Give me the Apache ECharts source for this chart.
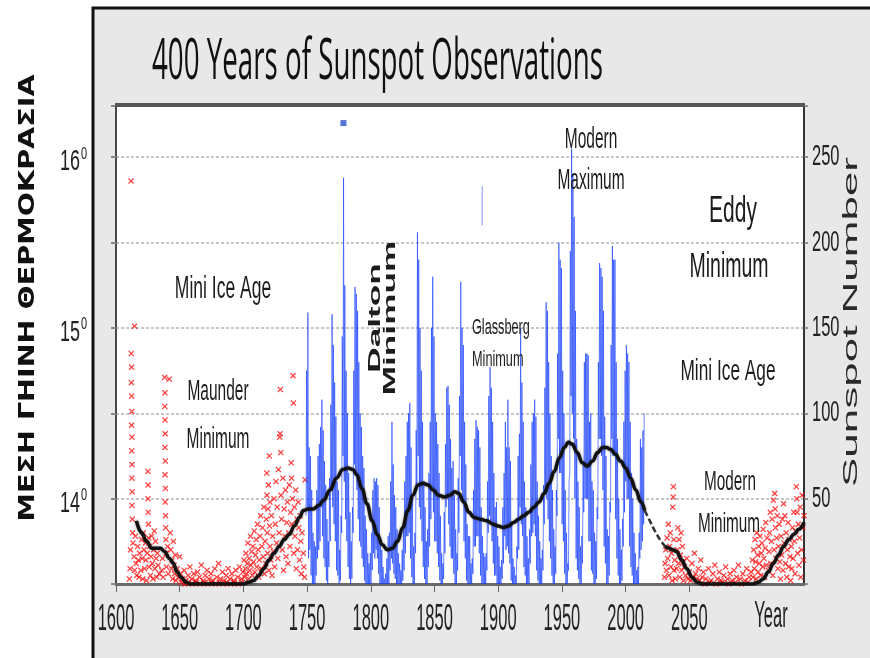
<!DOCTYPE html>
<html>
<head>
<meta charset="utf-8">
<script src="https://cdn.jsdelivr.net/npm/echarts@6/dist/echarts.min.js"></script>
<style>
  html, body { margin: 0; padding: 0; background: #fff; }
  #chart { width: 870px; height: 658px; }
</style>
</head>
<body>
<div id="chart"></div>
<script>
// tick labels
const xTicks = [1600, 1650, 1700, 1750, 1800, 1850, 1900, 1950, 2000, 2050];
const sunTicks = [50, 100, 150, 200, 250];
const tempTicks = [14, 15, 16];

// observed sunspot numbers, one high and one low monthly value per year, 1749..2014
const firstYear = 1749;
const sunHigh = [
  125, 159, 80, 75, 55, 30, 25, 22, 55, 75,
  82, 92, 108, 90, 72, 58, 38, 25, 62, 105,
  158, 140, 118, 98, 60, 55, 20, 40, 145, 238,
  175, 125, 100, 65, 42, 25, 45, 125, 174, 170,
  160, 130, 100, 92, 75, 68, 40, 32, 18, 12,
  18, 30, 55, 62, 60, 62, 58, 45, 25, 20,
  10, 3, 6, 15, 28, 30, 60, 95, 70, 52,
  45, 32, 18, 12, 8, 20, 32, 60, 75, 95,
  100, 106, 80, 50, 22, 30, 90, 206, 190, 150,
  125, 95, 60, 45, 25, 32, 65, 95, 150, 180,
  145, 100, 95, 82, 65, 40, 18, 12, 42, 82,
  115, 116, 105, 85, 68, 72, 52, 32, 18, 62,
  110, 177, 150, 140, 95, 70, 35, 28, 28, 12,
  15, 55, 85, 96, 92, 90, 80, 45, 28, 18,
  16, 18, 60, 110, 127, 115, 95, 65, 45, 48,
  28, 22, 10, 14, 45, 65, 95, 80, 108, 80,
  72, 35, 15, 10, 5, 22, 75, 88, 150, 118,
  95, 60, 45, 28, 15, 32, 70, 95, 100, 108,
  98, 60, 40, 25, 15, 20, 58, 115, 165, 160,
  130, 100, 75, 55, 32, 22, 55, 135, 200, 190,
  185, 125, 100, 55, 30, 12, 60, 195, 255, 240,
  215, 160, 85, 60, 45, 22, 28, 70, 130, 135,
  135, 134, 95, 100, 60, 55, 30, 25, 45, 130,
  188, 185, 180, 160, 98, 75, 32, 28, 48, 140,
  198, 190, 190, 130, 85, 50, 32, 20, 38, 95,
  125, 140, 135, 130, 95, 65, 50, 30, 18, 8,
  10, 30, 85, 80, 90, 100
];
const sunLow = [
  40, 45, 15, 20, 5, 0, 0, 0, 5, 15,
  20, 25, 45, 28, 15, 10, 2, 0, 10, 25,
  55, 45, 35, 25, 8, 5, 0, 2, 30, 75,
  60, 38, 25, 10, 3, 0, 3, 30, 70, 65,
  55, 38, 25, 22, 15, 10, 2, 0, 0, 0,
  0, 0, 8, 18, 15, 20, 15, 6, 0, 0,
  0, 0, 0, 0, 0, 0, 8, 15, 12, 6,
  3, 0, 0, 0, 0, 0, 2, 8, 18, 28,
  28, 30, 15, 4, 0, 0, 18, 55, 75, 45,
  38, 25, 10, 3, 0, 0, 10, 22, 38, 55,
  42, 25, 25, 18, 10, 2, 0, 0, 3, 18,
  45, 50, 35, 22, 15, 15, 6, 0, 0, 8,
  30, 75, 55, 50, 25, 15, 2, 0, 0, 0,
  0, 6, 22, 22, 28, 28, 18, 5, 0, 0,
  0, 0, 8, 30, 40, 35, 25, 12, 5, 5,
  0, 0, 0, 0, 3, 12, 28, 20, 22, 18,
  12, 2, 0, 0, 0, 0, 15, 20, 45, 35,
  28, 10, 5, 0, 0, 0, 12, 28, 30, 35,
  28, 8, 2, 0, 0, 0, 8, 35, 55, 50,
  38, 25, 15, 5, 0, 0, 6, 40, 85, 65,
  65, 35, 25, 6, 0, 0, 8, 65, 110, 100,
  85, 50, 15, 8, 3, 0, 0, 12, 42, 50,
  50, 50, 25, 25, 8, 6, 0, 0, 3, 38,
  85, 85, 75, 55, 22, 12, 0, 0, 5, 42,
  85, 75, 75, 38, 15, 5, 0, 0, 2, 22,
  42, 60, 50, 50, 22, 10, 5, 0, 0, 0,
  0, 0, 15, 20, 25, 35
];

// stray marks in the figure
const strayTrace = [[1887.5, 233], [1887.5, 210]];
const strayDot = [[1778.5, 270]];

// early telescope observations (year, sunspot number)
const earlyObs = [
  [1610.5, 3], [1611, 9], [1611.3, 20], [1611.8, 236], [1612, 135], [1612.2, 127], [1612.1, 118],
  [1612.3, 110], [1612.4, 101], [1612.2, 93], [1612.5, 86], [1612.3, 78], [1612.6, 70], [1612.4, 62],
  [1612.7, 54], [1612.5, 46], [1612.8, 38], [1613, 30], [1613.3, 24], [1614.5, 151], [1614.2, 16],
  [1614.6, 8], [1615.2, 28], [1615.8, 12], [1616.3, 5], [1617, 22], [1617.5, 14], [1618, 4], [1618.5, 18],
  [1619.5, 8], [1620, 26], [1620.5, 15], [1621, 3], [1621.5, 30], [1622, 20], [1622.5, 9], [1623, 24],
  [1623.5, 14], [1624, 2], [1624.5, 18], [1625, 66], [1625.2, 58], [1625.1, 50], [1625.3, 42], [1625.4, 35],
  [1625.6, 27], [1626, 10], [1626.5, 22], [1627, 5], [1627.5, 16], [1628, 28], [1628.5, 12], [1629, 3],
  [1629.5, 20], [1630, 31], [1630.5, 9], [1631, 25], [1631.5, 15], [1632, 4], [1632.5, 18], [1633, 11], [1634, 6],
  [1636, 8], [1636.5, 15], [1637, 4], [1638.2, 121], [1638.4, 112], [1638.3, 104], [1638.5, 96], [1638.6, 88],
  [1638.4, 80], [1638.7, 72], [1638.5, 64], [1638.8, 56], [1638.6, 48], [1638.9, 40], [1639, 33], [1639.2, 26],
  [1639.4, 18], [1639.6, 10], [1641.8, 120], [1640.5, 22], [1641, 6],
  [1642.5, 30], [1643, 20], [1643.5, 9], [1644, 14], [1644.5, 3], [1645, 25], [1645.5, 11], [1646, 6],
  [1646.5, 17], [1647, 2], [1648, 9], [1649, 4], [1650, 16], [1650.5, 6],
  [1652, 3], [1653.5, 8], [1655, 2], [1656.5, 5], [1658, 10], [1659.5, 3], [1661, 6], [1662.5, 2], [1664, 7],
  [1665.5, 4], [1667, 11], [1668.5, 2], [1670, 5], [1671.5, 8], [1673, 3], [1674.5, 6], [1676, 2], [1677.5, 9],
  [1679, 4], [1680.5, 12], [1682, 3], [1683.5, 7], [1685, 2], [1686.5, 5], [1688, 9], [1689.5, 3], [1691, 6],
  [1692.5, 2], [1694, 8], [1695.5, 4], [1697, 10], [1698.5, 3], [1699.5, 7],
  [1651, 1], [1654, 0], [1657, 1], [1660, 0], [1663, 1], [1666, 0], [1669, 1], [1672, 0], [1675, 1],
  [1678, 0], [1681, 1], [1684, 0], [1687, 1], [1690, 0], [1693, 1], [1696, 0], [1699, 1],
  [1700.5, 14], [1701, 4], [1701.5, 9], [1702, 18], [1702.5, 6], [1703, 12], [1703.5, 24], [1704, 3],
  [1704.5, 15], [1705, 8], [1705.5, 28], [1706, 11], [1706.5, 19], [1707, 5], [1707.5, 22], [1708, 13],
  [1708.5, 31], [1709, 7], [1709.5, 17], [1710, 26], [1710.5, 10], [1711, 35], [1711.5, 20], [1712, 4],
  [1712.5, 14], [1713, 28], [1713.5, 40], [1714, 9], [1714.5, 22], [1715, 33], [1715.5, 16], [1716, 45], [1716.5, 6],
  [1717, 25], [1717.5, 12], [1718, 38], [1718.3, 65], [1718.5, 52], [1718.7, 30], [1719, 18], [1719.3, 44],
  [1719.6, 58], [1720, 8], [1720.3, 75], [1720.5, 34], [1720.8, 48], [1721, 22], [1721.5, 14], [1722, 40],
  [1722.5, 5], [1723, 28], [1723.5, 19], [1724, 50], [1724.5, 10], [1725, 35],
  [1725.5, 60], [1726, 24], [1726.5, 45], [1727, 15], [1727.5, 67], [1728, 30], [1728.5, 86], [1728.8, 88],
  [1729, 114], [1729.3, 77], [1729.5, 52], [1730, 38], [1730.5, 20], [1731, 62], [1731.5, 8], [1732, 44],
  [1732.5, 28], [1733, 55], [1733.5, 16], [1734, 36], [1734.5, 48], [1735, 12],
  [1735.5, 30], [1736, 58], [1736.5, 22], [1737, 42], [1737.5, 71], [1737.8, 62], [1738, 35], [1738.5, 50],
  [1739, 122], [1739.2, 106], [1739.5, 18], [1740, 45], [1740.5, 28], [1741, 55], [1741.5, 9], [1742, 38],
  [1742.5, 20], [1743, 48], [1743.5, 33], [1744, 14], [1744.5, 40], [1745, 25], [1745.5, 6], [1746, 30],
  [1747, 18], [1747.5, 10], [1748, 4], [1748.4, 61]
];

// projected observations after the present cycle
const forecastObs = [
  [2030.5, 4], [2031, 12], [2031.5, 20], [2032, 8], [2032.5, 27], [2033, 15], [2033.5, 35], [2034, 5],
  [2034.5, 22], [2035, 30], [2035.5, 10], [2036, 18], [2036.5, 2], [2037, 45], [2037.3, 51], [2037.5, 57],
  [2037.8, 26], [2038, 8], [2038.5, 14], [2039, 3],
  [2040, 9], [2040.5, 20], [2041, 33], [2041.5, 12], [2042, 26], [2042.5, 4], [2043, 17], [2043.5, 30],
  [2044, 8], [2044.5, 22], [2045, 13], [2045.5, 2], [2046, 10], [2047, 5], [2048, 15], [2049, 3],
  [2050, 7], [2051, 2], [2052, 12], [2053, 4], [2054, 18], [2055, 6], [2056, 3], [2057, 9], [2058, 2],
  [2059, 14], [2060, 4], [2061, 7],
  [2063, 3], [2065, 9], [2067, 2], [2068.5, 6], [2070, 11], [2072, 3], [2073.5, 7], [2075, 2], [2077, 5],
  [2078.5, 10], [2080, 3], [2082, 6], [2083.5, 2], [2085, 8], [2087, 4], [2088.5, 11], [2090, 3], [2092, 6],
  [2093.5, 2], [2095, 9], [2097, 4], [2098.5, 7],
  [2062, 0], [2066, 1], [2071, 0], [2076, 1], [2081, 0], [2086, 1], [2091, 0], [2096, 1],
  [2099.5, 14], [2100, 4], [2100.5, 20], [2101, 9], [2101.5, 26], [2102, 13], [2102.5, 3], [2103, 30],
  [2103.5, 17], [2104, 7], [2104.5, 22], [2105, 12], [2105.5, 28], [2106, 5], [2106.5, 18], [2107, 24],
  [2107.5, 10], [2108, 32], [2108.5, 15], [2109, 4], [2109.5, 21], [2110, 36], [2110.5, 11], [2111, 27],
  [2112, 8], [2112.5, 19], [2113, 30], [2113.5, 42], [2114, 12], [2114.5, 25], [2115, 38], [2115.5, 5],
  [2116, 49], [2116.5, 20], [2117, 53], [2117.3, 44], [2117.6, 33], [2118, 15], [2118.5, 27], [2119, 40],
  [2119.5, 9], [2120, 22], [2120.5, 35], [2121, 13], [2121.5, 3],
  [2122, 28], [2122.5, 17], [2123, 38], [2123.5, 8], [2124, 47], [2124.5, 24], [2125, 40], [2125.5, 12],
  [2126, 30], [2126.5, 4], [2127, 20], [2127.5, 36], [2128, 10], [2128.5, 26], [2129, 16], [2129.5, 2],
  [2130, 22], [2130.5, 9], [2131, 33], [2131.5, 15], [2132, 42], [2132.5, 25], [2133, 6], [2133.5, 31],
  [2134, 57], [2134.3, 50], [2134.6, 42], [2135, 18], [2135.5, 35], [2136, 11], [2136.5, 27], [2137, 45],
  [2137.5, 4], [2138, 20], [2138.5, 52], [2139, 33], [2139.5, 14], [2140, 40]
];

// smoothed activity curve
const trendPast = [
  [1616, 37], [1620, 30], [1624, 25], [1628, 21], [1632, 21], [1635, 21], [1638, 19], [1642, 15], [1645, 12],
  [1648, 7], [1651, 4], [1655, 1], [1658, 0], [1680, 0], [1700, 0], [1704, 1], [1708, 2], [1712, 5], [1716, 9],
  [1720, 14], [1724, 18], [1728, 22], [1732, 26], [1736, 29], [1740, 34], [1744, 39], [1747, 43], [1751, 44],
  [1755, 44], [1759, 46], [1763, 49], [1768, 55], [1773, 62], [1778, 67], [1782, 68], [1786, 67], [1789, 64],
  [1793, 56], [1797, 47], [1801, 37], [1805, 29], [1809, 23], [1813, 20], [1817, 21], [1821, 25], [1825, 33],
  [1829, 43], [1833, 52], [1837, 58], [1841, 59], [1845, 58], [1849, 55], [1853, 52], [1858, 51], [1862, 52],
  [1866, 54], [1869, 53], [1873, 48], [1877, 42], [1881, 39], [1886, 38], [1891, 37], [1896, 35], [1900, 34],
  [1904, 33], [1908, 34], [1912, 36], [1916, 38], [1920, 40], [1924, 42], [1928, 45], [1932, 48], [1936, 53],
  [1940, 59], [1944, 66], [1948, 74], [1952, 80], [1955, 83], [1958, 82], [1962, 77], [1966, 71], [1970, 69],
  [1974, 72], [1978, 77], [1982, 80], [1985, 80], [1988, 79], [1992, 76], [1996, 72], [2000, 68], [2004, 62],
  [2008, 55], [2012, 48], [2015, 43]
];
const trendDashed = [[2015, 43], [2019, 37], [2023, 31], [2027, 26], [2031, 22]];
const trendFuture = [
  [2031, 22], [2034, 21], [2037, 20], [2040, 19], [2044, 14], [2048, 9], [2052, 4], [2056, 1], [2060, 0],
  [2080, 0], [2100, 0], [2104, 1], [2108, 3], [2112, 7], [2116, 12], [2120, 17], [2124, 22], [2128, 26],
  [2132, 29], [2136, 32], [2140, 36]
];

// monthly record as a zigzag between the low and high value of each year
let monthly = [];
sunHigh.forEach(function (hi, i) {
  let y = firstYear + i;
  monthly.push([y + 0.15, sunLow[i]]);
  monthly.push([y + 0.6, hi]);
});

let chart = echarts.init(document.getElementById('chart'));
let crossSymbol = 'path://M0,1.5L1.5,0L5,3.5L8.5,0L10,1.5L6.5,5L10,8.5L8.5,10L5,6.5L1.5,10L0,8.5L3.5,5Z';

let option = {
  backgroundColor: '#fff',
  animation: false,
  grid: {
    left: 116, right: 66, top: 106, bottom: 74,
    show: true, backgroundColor: '#fff', borderColor: '#3c3c3c', borderWidth: 1.5
  },
  xAxis: {
    type: 'value', min: 1600, max: 2140,
    axisLine: { lineStyle: { color: '#6a6a6a', width: 3 } },
    axisTick: { customValues: xTicks, length: 8, lineStyle: { color: '#666', width: 1 } },
    axisLabel: { show: false },
    splitLine: { show: false }
  },
  yAxis: [
    {
      type: 'value', position: 'left', min: 13.5, max: 16.3, interval: 0.5,
      axisLine: { show: true, lineStyle: { color: '#3c3c3c', width: 1.5 } },
      axisTick: { show: true, length: 5, lineStyle: { color: '#888', width: 2 } },
      axisLabel: { show: false },
      splitLine: { show: false }
    },
    {
      type: 'value', position: 'right', min: 0, max: 280, interval: 50,
      axisLine: { show: true, lineStyle: { color: '#333', width: 2 } },
      axisTick: { show: true, length: 4, lineStyle: { color: '#777', width: 1.5 } },
      axisLabel: { show: false },
      splitLine: { show: true, lineStyle: { color: '#c6c6c6', width: 2, type: [3, 2] } }
    }
  ],
  series: [
    {
      name: 'early', type: 'scatter', yAxisIndex: 1, data: earlyObs,
      symbol: crossSymbol, symbolSize: 6, z: 2,
      itemStyle: { color: 'rgba(255,0,0,0.92)' }
    },
    {
      name: 'forecast', type: 'scatter', yAxisIndex: 1, data: forecastObs,
      symbol: crossSymbol, symbolSize: 6, z: 2,
      itemStyle: { color: 'rgba(255,0,0,0.92)' }
    },
    {
      name: 'monthly', type: 'line', yAxisIndex: 1, data: monthly,
      showSymbol: false, z: 3,
      lineStyle: { color: 'rgba(25,65,255,0.8)', width: 0.8 }
    },
    {
      name: 'stray', type: 'line', yAxisIndex: 1, data: strayTrace,
      showSymbol: false, z: 3,
      lineStyle: { color: '#a8b8ff', width: 1.5 }
    },
    {
      name: 'dot', type: 'scatter', yAxisIndex: 1, data: strayDot,
      symbol: 'rect', symbolSize: 6, z: 3,
      itemStyle: { color: '#2a55c8' }
    },
    {
      name: 'trend', type: 'line', yAxisIndex: 1, data: trendPast,
      smooth: 0.4, smoothMonotone: 'x', showSymbol: false, z: 5,
      lineStyle: { color: '#111', width: 3.5, shadowBlur: 3, shadowColor: 'rgba(0,0,0,0.45)' }
    },
    {
      name: 'trendDashed', type: 'line', yAxisIndex: 1, data: trendDashed,
      smooth: 0.4, showSymbol: false, z: 5,
      lineStyle: { color: '#333', width: 2.5, type: [6, 3] }
    },
    {
      name: 'trendFuture', type: 'line', yAxisIndex: 1, data: trendFuture,
      smooth: 0.4, smoothMonotone: 'x', showSymbol: false, z: 5,
      lineStyle: { color: '#111', width: 3.5, shadowBlur: 3, shadowColor: 'rgba(0,0,0,0.45)' }
    }
  ]
};
chart.setOption(option);

// text in the source figure is stretched vertically, so labels are scaled graphics
let ctx = document.createElement('canvas').getContext('2d');
function textWidth(t, font) {
  ctx.font = font;
  return ctx.measureText(t).width;
}
function stretched(text, x, y, size, o) {
  o = o || {};
  let family = o.family || '"Liberation Sans", Arial, sans-serif';
  return {
    type: 'text', x: x, y: y, z: 100,
    rotation: o.rot || 0,
    scaleX: o.sx || 1, scaleY: o.sy || 1.85,
    style: {
      text: text, fill: o.fill || '#1c1c1c',
      fontSize: size, fontFamily: family, fontWeight: o.weight || 'normal',
      align: o.align || 'center', verticalAlign: 'middle',
      textAlign: o.align || 'center', textVerticalAlign: 'middle'
    }
  };
}

let g = [];
// grey figure panel
g.push({
  type: 'rect', z: -100, shape: { x: 93, y: 8, width: 800, height: 700 },
  style: { fill: '#e8e8e8', stroke: '#111', lineWidth: 3 }
});
// thick upper frame of the plot
g.push({
  type: 'rect', z: 50, shape: { x: 115, y: 103, width: 690, height: 4 },
  style: { fill: '#555' }
});

let titleText = '400 Years of Sunspot Observations';
let titleSx = 451 / textWidth(titleText, '30px "Open Sans"');
g.push(stretched(titleText, 152, 63, 30, { family: '"Open Sans", sans-serif', align: 'left', sx: titleSx, sy: 1.9, fill: '#111' }));

let greek = 'ΜΕΣΗ ΓΗΙΝΗ ΘΕΡΜΟΚΡΑΣΙΑ';
let greekSx = 447 / textWidth(greek, 'bold 22px "DejaVu Sans"');
g.push(stretched(greek, 28, 298, 22, { family: '"DejaVu Sans", sans-serif', weight: 'bold', rot: Math.PI / 2, sx: greekSx, sy: 1, fill: '#111' }));

let sunTitle = 'Sunspot Number';
let sunSx = 330 / textWidth(sunTitle, '21px "Liberation Sans"');
g.push(stretched(sunTitle, 851, 322, 21, { rot: Math.PI / 2, sx: sunSx, sy: 1, fill: '#2a2a2a' }));

// axis labels placed through the axes' own scales
xTicks.forEach(function (v) {
  let px = chart.convertToPixel({ xAxisIndex: 0 }, v);
  g.push(stretched(String(v), px, 620, 16.5, { sy: 2.2, fill: '#222' }));
});
g.push(stretched('Year', 771, 617, 16.5, { sy: 2.2, fill: '#222' }));
sunTicks.forEach(function (v) {
  let py = chart.convertToPixel({ yAxisIndex: 1 }, v);
  g.push(stretched(String(v), 812, py, 16.5, { align: 'left', sy: 1.8, fill: '#222' }));
});
tempTicks.forEach(function (v) {
  let py = chart.convertToPixel({ yAxisIndex: 0 }, v);
  g.push(stretched(String(v), 80, py + 5, 18, { align: 'right', sy: 1.6, fill: '#222' }));
  g.push(stretched('0', 81, py - 3, 11, { align: 'left', sy: 1.5, fill: '#222' }));
});

// annotations
g.push(stretched('Mini Ice Age', 223, 290, 17.5, { sy: 1.75 }));
g.push(stretched('Maunder', 218, 392, 15.5));
g.push(stretched('Minimum', 218, 440, 15.5));
g.push(stretched('Dalton', 376, 318, 16, { rot: Math.PI / 2, sx: 2.2, sy: 1, weight: 'bold' }));
g.push(stretched('Minimum', 391, 318, 16, { rot: Math.PI / 2, sx: 2.2, sy: 1, weight: 'bold' }));
g.push(stretched('Glassberg', 472, 328, 12.7, { align: 'left', sy: 1.75 }));
g.push(stretched('Minimum', 472, 360, 12.7, { align: 'left', sy: 1.75 }));
g.push(stretched('Modern', 591, 140, 15.5));
g.push(stretched('Maximum', 591, 181, 15.5));
g.push(stretched('Eddy', 733, 212, 21, { sy: 1.8 }));
g.push(stretched('Minimum', 729, 267, 19.5, { sy: 1.8 }));
g.push(stretched('Mini Ice Age', 728, 372, 17.3, { sy: 1.75 }));
g.push(stretched('Modern', 730, 482, 15.3));
g.push(stretched('Minimum', 729, 524, 15.3));

chart.setOption({ graphic: g });
</script>
</body>
</html>
